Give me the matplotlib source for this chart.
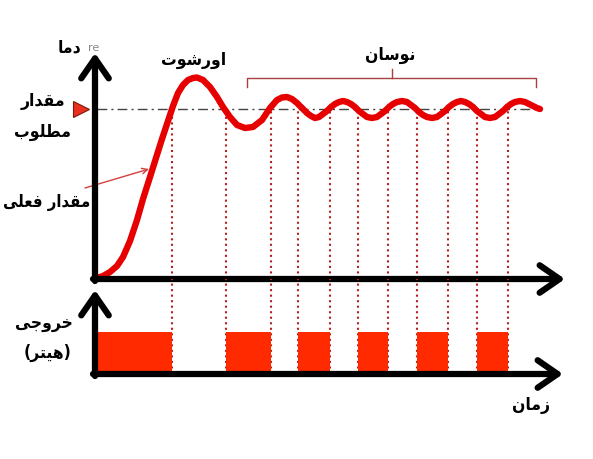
import numpy as np
import matplotlib
matplotlib.use("Agg")
import matplotlib.pyplot as plt

# --- data (time / temperature) ---
curve_t = [2, 8, 15, 22, 28, 35, 42, 48, 55, 61, 67, 72, 75, 78, 83, 88, 93, 98, 102, 108,
           115, 122, 128, 135, 142, 150, 158, 167, 175, 182, 187, 192, 197, 202, 207, 212,
           216, 220, 224, 228, 232, 236, 240, 244, 248, 252, 256, 260, 264, 268, 272, 277,
           282, 286, 290, 294, 298, 302, 307, 312, 316, 320, 324, 328, 332, 337, 342, 346,
           350, 354, 358, 362, 366, 370, 374, 378, 382, 386, 390, 395, 400, 404, 408, 412,
           416, 420, 425, 430, 434, 438, 442, 445]
curve_T = [1, 3, 7, 13, 22, 38, 59, 80, 102, 121, 140, 155, 164, 173, 186, 194, 199, 201, 201.5, 199,
           192, 182, 172, 162, 154, 151, 152, 159, 171, 179, 181.5, 182, 180, 176, 171, 166,
           163, 161, 162, 165, 168, 172, 175, 177, 178, 177, 175, 172, 168, 165, 162, 161,
           162, 165, 168, 172, 175, 177, 178, 177, 174, 171, 167, 164, 162, 161, 162, 165,
           168, 172, 175, 177, 178, 177, 175, 172, 168, 165, 162, 161, 162, 165, 168, 172,
           175, 177, 178, 177, 175, 173, 171, 170]
setpoint = 170
switch_times = [77, 131, 176, 203, 235, 263, 293, 322, 353, 382, 413]
heater_on = [(3, 77), (131, 176), (203, 235), (263, 293), (322, 353), (382, 413)]
heater_level = 42

# minimal arabic/persian shaping (matplotlib has no bidi)
FORMS = {
    'ا': (0xFE8D, 0xFE8E, None, None), 'ب': (0xFE8F, 0xFE90, 0xFE91, 0xFE92),
    'ت': (0xFE95, 0xFE96, 0xFE97, 0xFE98), 'ج': (0xFE9D, 0xFE9E, 0xFE9F, 0xFEA0),
    'خ': (0xFEA5, 0xFEA6, 0xFEA7, 0xFEA8), 'د': (0xFEA9, 0xFEAA, None, None),
    'ر': (0xFEAD, 0xFEAE, None, None), 'ز': (0xFEAF, 0xFEB0, None, None),
    'س': (0xFEB1, 0xFEB2, 0xFEB3, 0xFEB4), 'ش': (0xFEB5, 0xFEB6, 0xFEB7, 0xFEB8),
    'ط': (0xFEC1, 0xFEC2, 0xFEC3, 0xFEC4), 'ع': (0xFEC9, 0xFECA, 0xFECB, 0xFECC),
    'ف': (0xFED1, 0xFED2, 0xFED3, 0xFED4), 'ق': (0xFED5, 0xFED6, 0xFED7, 0xFED8),
    'ل': (0xFEDD, 0xFEDE, 0xFEDF, 0xFEE0), 'م': (0xFEE1, 0xFEE2, 0xFEE3, 0xFEE4),
    'ن': (0xFEE5, 0xFEE6, 0xFEE7, 0xFEE8), 'ه': (0xFEE9, 0xFEEA, 0xFEEB, 0xFEEC),
    'و': (0xFEED, 0xFEEE, None, None), 'ی': (0xFEEF, 0xFEF0, 0xFEF3, 0xFEF4),
}
MIRROR = {'(': ')', ')': '('}


def fa(s):
    out = []
    for i, ch in enumerate(s):
        if ch not in FORMS:
            out.append(ch)
            continue
        iso, fin, ini, med = FORMS[ch]
        prev = s[i - 1] if i > 0 else ''
        nxt = s[i + 1] if i + 1 < len(s) else ''
        jp = prev in FORMS and FORMS[prev][2] is not None
        jn = ini is not None and nxt in FORMS
        if jp and jn:
            f = med
        elif jp:
            f = fin
        elif jn:
            f = ini
        else:
            f = iso
        out.append(chr(f))
    return ''.join(MIRROR.get(c, c) for c in reversed(out))


W, H = 593, 459
fig = plt.figure(figsize=(W / 100, H / 100), dpi=100)
fig.patch.set_facecolor('white')

ax = fig.add_axes([95 / W, 1 - 279 / H, 470 / W, 224 / H])
axb = fig.add_axes([95 / W, 1 - 374 / H, 470 / W, 95 / H])
for a, top in ((ax, 224), (axb, 95)):
    a.set_xlim(0, 470)
    a.set_ylim(0, top)
    a.axis('off')

red = '#e60000'
dot_red = '#b22222'

# setpoint + switching lines
ax.plot([2, 447], [setpoint, setpoint], color='#444444', lw=1,
        dashes=(7, 3, 1.5, 3), zorder=2)
ax.vlines(switch_times, 0, setpoint, colors=dot_red, linestyles=':', lw=1.5, zorder=1)
axb.vlines(switch_times, 0, 95, colors=dot_red, linestyles=':', lw=1.5, zorder=1)

# process value
ax.plot(curve_t, curve_T, color=red, lw=4.6, solid_joinstyle='round',
        solid_capstyle='round', zorder=3, clip_on=False)

# heater output
for a0, a1 in heater_on:
    axb.bar(a0, heater_level, width=a1 - a0, align='edge', color='#ff2a00', zorder=2)

# setpoint marker
ax.plot([-14], [setpoint], marker='>', ms=11, color='#e8301c', mec='#7a1a10',
        mew=0.8, clip_on=False, zorder=4)

# axes arrows
arw = dict(arrowstyle='->,head_length=0.65,head_width=0.45', lw=4.5, color='black',
           mutation_scale=22, shrinkA=0, shrinkB=0)
ax.annotate('', xy=(0, 226), xytext=(0, -2), arrowprops=arw, annotation_clip=False, zorder=5)
ax.annotate('', xy=(470, 0), xytext=(-2, 0), arrowprops=arw, annotation_clip=False, zorder=5)
axb.annotate('', xy=(0, 84), xytext=(0, -2), arrowprops=arw, annotation_clip=False, zorder=5)
axb.annotate('', xy=(468, 0), xytext=(-2, 0), arrowprops=arw, annotation_clip=False, zorder=5)

# pointer to actual value
ax.annotate('', xy=(54, 110), xytext=(-10, 91),
            arrowprops=dict(arrowstyle='->', lw=1, color='#d04040', shrinkA=0, shrinkB=0),
            annotation_clip=False)

# oscillation bracket
bc = '#a84040'
ax.plot([152, 152, 441, 441], [192, 201, 201, 192], color=bc, lw=1, clip_on=False)
ax.plot([297, 297], [201, 210], color=bc, lw=1, clip_on=False)


def label(px, py, s, size=12.5, **kw):
    fig.text(px / W, 1 - py / H, s, ha='center', va='center', fontsize=size,
             fontweight='bold', family='DejaVu Sans', fontstretch='condensed', **kw)


fig.text(94 / W, 1 - 48 / H, 're', ha='center', va='center', fontsize=8, color='#888888', zorder=0)
label(69, 47, fa('دما'))
label(43, 101, fa('مقدار'))
label(42, 132, fa('مطلوب'))
label(47, 202, fa('مقدار فعلی'), size=12)
label(194, 60, fa('اورشوت'))
label(390, 55, fa('نوسان'))
label(44, 323, fa('خروجی'))
label(48, 353, fa('(هیتر)'))
label(531, 405, fa('زمان'))

fig.savefig('out.png', dpi=100)
